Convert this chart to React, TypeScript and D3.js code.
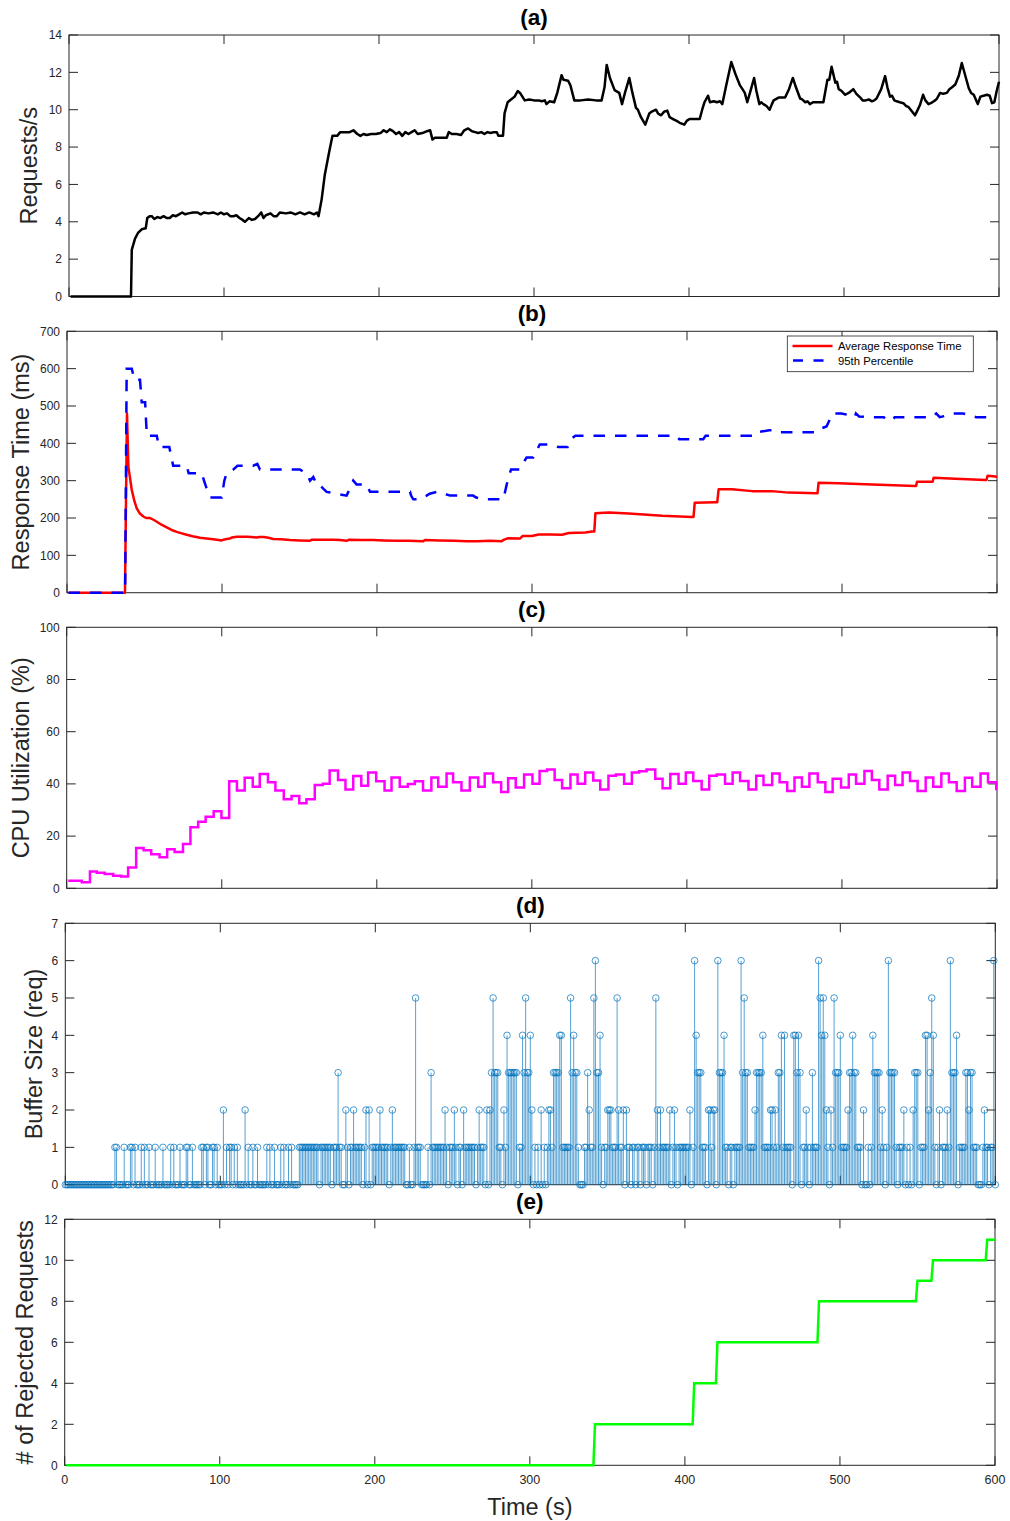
import React from "react";
import * as d3 from "d3";

// ---------------- DATA ----------------
const xTicks = [0, 100, 200, 300, 400, 500, 600];

// (a) Requests/s
const reqTimes = [1,40,40.5,42.6,44.5,46.9,49.5,50.5,52,53.4,55,57,59,61,63,65,67,69,71,73,75,77,80,83,85,87,90,93,96,98,100,102,104,106,108,110,112,113.5,116,118,120,122,124,125.5,127,130,132,134,136,140,143,146,149,152,155,158,160,161,163,165,168,170,173,175,178,181,183.5,186,188,190,192,195,198,201,203,205,207,209,211,213,215,217,219,221,223,225,228,231,233,234.5,236,240,243.7,245,247,250,253,255,257.5,260,262,264,266,268,270,272,274,276,277,280,281,283,286,287.5,289.5,291,294,297,300,303,305,307,308,310,313,315,317.8,319,322,323.5,326,330,335,340,343.6,345.5,346.9,349,352,355,356.8,359,361.5,363.5,365.8,367,369,371.8,374.4,376,378.7,380,382,384,386,387.5,389.7,392,394,397,398.5,400.4,404,406.9,408.5,410,412.3,413.5,416,418,420,421.5,424,427.3,430,432.9,434.5,436,437.6,440,442,443.5,445.4,446.5,448,450,452,453.5,454.6,457.8,462,464.5,467,469,471.7,473,475,476.5,478,480,484,486.7,488,489.3,490.5,492,494.4,495.5,496.6,498.5,500.8,503,506,508,510.5,512,514,516,518,519.5,521,524,526.5,528,529.7,531,532.5,534,536,538.3,540,541.5,543,545.8,547,549,551,552.5,554.5,556,558.8,560,562,564,566.4,568,569.7,571.8,574,576,578,580.5,582,583.7,586.3,588,590,592.3,594,595.5,597,598.5,600];
const reqValues = [0,0,2.5,3.1,3.4,3.6,3.65,4.2,4.3,4.3,4.15,4.25,4.2,4.3,4.2,4.2,4.35,4.3,4.4,4.5,4.4,4.45,4.5,4.5,4.4,4.5,4.45,4.5,4.4,4.5,4.4,4.45,4.3,4.3,4.35,4.2,4.1,4.0,4.2,4.1,4.15,4.3,4.5,4.2,4.35,4.45,4.3,4.3,4.5,4.45,4.5,4.4,4.5,4.4,4.5,4.4,4.5,4.3,5.2,6.5,7.8,8.6,8.6,8.8,8.8,8.8,8.9,8.7,8.6,8.7,8.65,8.7,8.7,8.75,8.9,8.8,8.95,8.85,8.7,8.8,8.6,8.8,8.7,8.8,8.9,8.7,8.75,8.85,8.9,8.4,8.5,8.5,8.5,8.8,8.7,8.7,8.65,8.9,9.0,8.85,8.8,8.75,8.8,8.7,8.8,8.75,8.8,8.8,8.6,8.6,9.8,10.4,10.6,10.7,11.0,10.9,10.5,10.55,10.5,10.5,10.45,10.5,10.3,10.45,10.4,10.9,11.85,11.6,11.55,11.3,10.5,10.5,10.55,10.5,10.5,11.2,12.4,11.7,11.05,10.9,10.3,11.0,11.7,10.9,10.1,10.0,9.6,9.2,9.8,9.9,10.0,9.8,9.7,9.9,9.95,9.6,9.5,9.4,9.3,9.2,9.4,9.5,9.5,9.5,10.0,10.4,10.75,10.4,10.45,10.4,10.45,10.3,11.3,12.55,11.9,11.3,11.1,10.9,10.4,11.1,11.7,11.0,10.3,10.4,10.3,10.2,10.0,10.3,10.5,10.65,10.65,11.1,11.7,11.2,10.6,10.55,10.4,10.45,10.3,10.4,10.4,10.4,11.0,11.6,11.6,12.3,11.45,11.5,11.1,11.0,10.8,10.9,11.1,10.85,10.65,10.5,10.5,10.55,10.45,10.5,10.6,11.1,11.8,11.2,10.7,10.75,10.5,10.45,10.4,10.35,10.2,10.15,10.0,9.7,9.9,10.25,10.8,10.5,10.3,10.35,10.5,10.6,10.9,10.85,10.9,11.1,11.2,11.35,11.8,12.5,11.9,11.15,10.9,10.8,10.3,10.7,10.75,10.8,10.75,10.35,10.4,11.0,11.5];
const reqTicks = [0, 2, 4, 6, 8, 10, 12, 14];

// (b) Response time
const avgTimes = [1,37.4,38.7,39.6,41.8,43.5,45,47,49.3,51,53.6,55.5,57.9,61,64.3,67.5,70.8,74,77.2,81,85.8,90,94.4,99.8,101,103,105,106.5,109.5,113,116,119,122.3,124,127,130,133.1,138,143.9,150,156.8,158,165,171.8,176,180.4,182,190,198,204,212,220,229.9,231,240,250,257.8,265,272.9,280.4,282,284.7,292.2,294,300,304.3,312,319.4,323.7,334.4,338.7,340.2,340.9,349.5,362.4,383.9,403.3,404.2,405,418.3,419.5,420.4,429,441.9,454.8,465.5,483.8,484.2,484.9,497.8,519.3,547.3,547.8,548.4,558,558.5,559.1,573,592.4,593.2,593.9,598.9,600];
const avgValues = [0,0,480,337,275,245,226,212,204,200,200,196,190,182,175,168,163,159,155,151,147,145,143,140,142,144,145,148,150,150,150,149,148,149,149,147,144,143,141,140,139,142,142,142,141,139,142,141,141,140,139,139,138,141,140,139,138,138,139,138,142,145.7,145,152,152,156,156,155,160,161,164,164,212.6,215,212,206,203,203,241,242,242,277,277,272,272,268,266,266,294.6,293,290,286,286,297,297,297,308,305,302,302,313,311,310];
const p95Times = [1,37.5,38.5,41.8,43.5,47.1,48.2,50.4,51.5,57.9,59.5,66,68.5,77.2,78.5,86.9,88.4,90,92.5,99.8,101.5,103,107.3,110,120.2,122.8,124.5,150.3,152,154.6,156.8,158.9,161,163,165,167.5,180.4,181.5,182.6,184.7,186.8,193.3,195.5,221.3,222,223.4,227.7,229.5,232,234,238.5,240,247.1,262,264,268.6,281.5,283.7,285,286.5,292,294,296.5,300.8,303,305,310,314,317,323,325,328,393.5,395,410.5,412,440,444.8,447,453,455.6,457.8,484,486.6,490,494,499.6,505,508.2,509,511,518,527,529.3,532.5,534,558,560.8,563,568,570.6,578,586.6,589,591,597];
const p95Values = [0,0,600,600,570,570,510,510,420,420,390,390,340,340,320,320,300,280,255,255,300,320,330,340,340,345,330,330,325,320,300,310,290,290,280,270,260,270,280,300,290,290,270,270,260,250,250,255,260,265,270,270,260,260,255,250,250,290,311,330,330,345,362,362,380,397,397,395,390,390,411,420,420,411,411,420,420,420,431,435,435,430,430,440,445,480,480,475,470,480,472,470,470,462,462,470,470,480,470,475,480,480,470,470,470,470];
const rtTicks = [0, 100, 200, 300, 400, 500, 600, 700];

// (c) CPU utilization (step series)
const cpuTimes = [1,9.7,15,19.4,24.5,30,35.2,39.6,44.8,49.6,54.5,59.9,64.8,69.6,75,79.8,84.8,89.6,94.8,99.8,104.8,109.8,114.8,120,124.5,129.8,134.6,140,145,150,154.6,160,165.2,169.6,175,179.8,184.8,190,194.4,199.6,205,209.5,214.8,220,224.5,229.8,235.2,239.6,245,249.2,254.6,260,265.4,269.6,275,280.2,284.7,289.6,295,300.4,305,309.8,314.7,319.5,324.9,329.5,334.4,339.6,344.1,349.4,354.2,359.5,364.5,369.2,374,379.6,384.3,389.3,394.6,399.3,404.1,409.5,414.4,419.2,424.6,429.5,434.3,439.7,444.7,449.4,455,459.8,464.7,469.4,474.2,479,484.4,489.3,494,499.4,504.4,509.1,514.5,519.3,524.1,529.5,534.3,539.1,543.9,548.8,554,558.9,564.1,569,574,579.3,584,589.4,594.2,599.5,600];
const cpuValues = [2.9,2.3,6.4,6.0,5.5,4.8,4.5,8.0,15.4,14.6,13.0,11.9,15.0,13.9,17.0,23.4,25.5,27.4,29.5,26.9,41.0,37.5,42.4,38.9,43.8,40.6,37.5,34.1,35.4,32.6,34.1,39.6,40.1,45.1,41.5,37.9,43.0,39.3,44.4,41.0,37.5,42.5,38.9,40.0,41.0,37.5,42.5,38.9,44.0,40.6,37.5,42.5,38.9,44.0,40.6,36.9,42.2,38.6,43.6,40.1,44.9,45.5,41.5,38.3,43.6,40.1,44.4,41.3,37.9,43.1,43.6,40.1,44.4,44.8,45.5,42.0,38.3,43.8,40.1,44.4,41.1,37.9,43.1,43.6,40.1,44.4,41.1,37.9,43.1,39.6,44.0,40.6,37.3,42.5,38.9,44.0,40.6,36.9,42.0,38.6,43.6,40.1,44.9,41.5,37.9,43.1,39.6,44.4,41.1,37.3,42.5,38.9,44.0,40.6,37.3,42.4,38.9,44.0,40.6,38.0,38.0];
const cpuTicks = [0, 20, 40, 60, 80, 100];

// (d) Buffer size, one sample per second from t = 0 s (each row = 10 s)
const bufferRows = [
  "0000000000","0000000000","0000000000","0011000010","0011010001","0100100010",
  "0001000010","1000100011","0010000011","0110011010","0020101101","0100002010",
  "0100100000","1010010001","0100101000","0111111111","1111011111","1101113110",
  "0210112111","1101202011","1112111110","1211111111","0010015111","0000103111",
  "1111121011","1210110211","1111101211","1020235333","1102143333","3301143533",
  "4201010201","0122133334","4111115343","3100011321","1563341011","2221115211",
  "2021101101","1011101110","1521211111","2012101111","1112016433","3111022122",
  "0633341101","1011116353","3111123333","4111122121","3341411110","4434301121",
  "0131116545","4210215333","4111123343","3111020010","1433331210","1633331011",
  "1201010233","3011144235","4101201112","1633340111","1332331110","0012110116",
  "0",
];
const bufferSizes = bufferRows.join("").split("").map(Number);
const bufferTicks = [0, 1, 2, 3, 4, 5, 6, 7];

// (e) Rejected requests
const rejTimes = [1,341,342,405,406,420,421,485.5,486.5,549,550,559,560,594,595,600];
const rejValues = [0,0,2,2,4,4,6,6,8,8,9,9,10,10,11,11];
const rejTicks = [0, 2, 4, 6, 8, 10, 12];

// ---------------- LAYOUT ----------------
const FONT = "'Liberation Sans', Arial, Helvetica, sans-serif";
const AX = "#262626";

type Box = { l: number; r: number; t: number; b: number };

function scalesFor(box: Box, yMax: number) {
  const x = d3.scaleLinear().domain([0, 600]).range([box.l, box.r]);
  const y = d3.scaleLinear().domain([0, yMax]).range([box.b, box.t]);
  return { x, y };
}

function Frame(props: {
  box: Box; yMax: number; yTicks: number[]; title: string; ylabel: string;
  ylabelX: number; showX?: boolean;
}) {
  const { box, yMax, yTicks, title, ylabel, ylabelX, showX } = props;
  const { x, y } = scalesFor(box, yMax);
  const tl = 9;
  return (
    <g>
      <rect x={box.l} y={box.t} width={box.r - box.l} height={box.b - box.t} fill="white" stroke={AX} strokeWidth={1} />
      {xTicks.map((v) => (
        <g key={"x" + v}>
          <line x1={x(v)} x2={x(v)} y1={box.b} y2={box.b - tl} stroke={AX} strokeWidth={1} />
          <line x1={x(v)} x2={x(v)} y1={box.t} y2={box.t + tl} stroke={AX} strokeWidth={1} />
          {showX && (
            <text x={x(v)} y={box.b + 18.5} textAnchor="middle" fontSize={12.5} fill={AX} fontFamily={FONT}>{v}</text>
          )}
        </g>
      ))}
      {yTicks.map((v) => (
        <g key={"y" + v}>
          <line x1={box.l} x2={box.l + tl} y1={y(v)} y2={y(v)} stroke={AX} strokeWidth={1} />
          <line x1={box.r} x2={box.r - tl} y1={y(v)} y2={y(v)} stroke={AX} strokeWidth={1} />
          <text x={box.l - 7} y={y(v)} dy="0.35em" textAnchor="end" fontSize={12} fill={AX} fontFamily={FONT}>{v}</text>
        </g>
      ))}
      <text x={(box.l + box.r) / 2} y={box.t - 10} textAnchor="middle" fontSize={22.5} fontWeight="bold" fill="#000" fontFamily={FONT}>{title}</text>
      <text transform={`translate(${ylabelX},${(box.t + box.b) / 2}) rotate(-90)`} textAnchor="middle" fontSize={23.5} fill={AX} fontFamily={FONT}>{ylabel}</text>
    </g>
  );
}

const boxA: Box = { l: 69, r: 999, t: 35, b: 296.5 };
const boxB: Box = { l: 67, r: 997, t: 331.3, b: 592.7 };
const boxC: Box = { l: 66.7, r: 997, t: 627.3, b: 888.3 };
const boxD: Box = { l: 65.3, r: 995.3, t: 923.3, b: 1184.7 };
const boxE: Box = { l: 64.7, r: 995, t: 1219.3, b: 1465.3 };

function linePath(box: Box, yMax: number, ts: number[], vs: number[], curve: any = d3.curveLinear) {
  const { x, y } = scalesFor(box, yMax);
  const pts: [number, number][] = ts.map((t, i) => [t, vs[i]]);
  return d3.line<[number, number]>().x((d) => x(d[0])).y((d) => y(d[1])).curve(curve)(pts) || "";
}

export default function App() {
  const sD = scalesFor(boxD, 7);
  return (
    <svg width={1010} height={1521} style={{ position: "absolute", left: 0, top: 0, background: "white" }}>
      <rect x={0} y={0} width={1010} height={1521} fill="white" />
      {/* (a) */}
      <Frame box={boxA} yMax={14} yTicks={reqTicks} title="(a)" ylabel="Requests/s" ylabelX={37} />
      <path d={linePath(boxA, 14, reqTimes, reqValues)} fill="none" stroke="#000" strokeWidth={2.5} strokeLinejoin="round" />

      {/* (b) */}
      <Frame box={boxB} yMax={700} yTicks={rtTicks} title="(b)" ylabel="Response Time (ms)" ylabelX={28.5} />
      <path d={linePath(boxB, 700, avgTimes, avgValues)} fill="none" stroke="#ff0000" strokeWidth={2.5} strokeLinejoin="round" />
      <path d={linePath(boxB, 700, p95Times, p95Values)} fill="none" stroke="#0000ff" strokeWidth={2.5} strokeDasharray="11.5,10" />
      <g>
        <rect x={787.3} y={336} width={186} height={35.7} fill="white" stroke={AX} strokeWidth={0.8} />
        <line x1={792.5} x2={832.5} y1={346} y2={346} stroke="#ff0000" strokeWidth={2.5} />
        <text x={838} y={346} dy="0.35em" fontSize={11.3} fill="#000" fontFamily={FONT}>Average Response Time</text>
        <line x1={793} x2={832.5} y1={360.5} y2={360.5} stroke="#0000ff" strokeWidth={2.5} strokeDasharray="10,10.5" />
        <text x={838} y={361} dy="0.35em" fontSize={11.3} fill="#000" fontFamily={FONT}>95th Percentile</text>
      </g>

      {/* (c) */}
      <Frame box={boxC} yMax={100} yTicks={cpuTicks} title="(c)" ylabel="CPU Utilization (%)" ylabelX={28.5} />
      <path d={linePath(boxC, 100, cpuTimes, cpuValues, d3.curveStepAfter)} fill="none" stroke="#ff00ff" strokeWidth={2.5} />

      {/* (d) */}
      <Frame box={boxD} yMax={7} yTicks={bufferTicks} title="(d)" ylabel="Buffer Size (req)" ylabelX={41.5} />
      <g stroke="#0072BD" fill="none">
        {bufferSizes.map((v, i) => (
          v > 0 ? <line key={"s" + i} x1={sD.x(i)} x2={sD.x(i)} y1={sD.y(0)} y2={sD.y(v)} strokeWidth={0.8} strokeOpacity={0.85} /> : null
        ))}
        {bufferSizes.map((v, i) => (
          <circle key={"c" + i} cx={sD.x(i)} cy={sD.y(v)} r={3.3} strokeWidth={0.8} strokeOpacity={0.9} />
        ))}
      </g>

      {/* (e) */}
      <Frame box={boxE} yMax={12} yTicks={rejTicks} title="(e)" ylabel="# of Rejected Requests" ylabelX={32.5} showX />
      <path d={linePath(boxE, 12, rejTimes, rejValues)} fill="none" stroke="#00ff00" strokeWidth={2.5} />
      <text x={(boxE.l + boxE.r) / 2} y={1515} textAnchor="middle" fontSize={23.5} fill={AX} fontFamily={FONT}>Time (s)</text>
    </svg>
  );
}
